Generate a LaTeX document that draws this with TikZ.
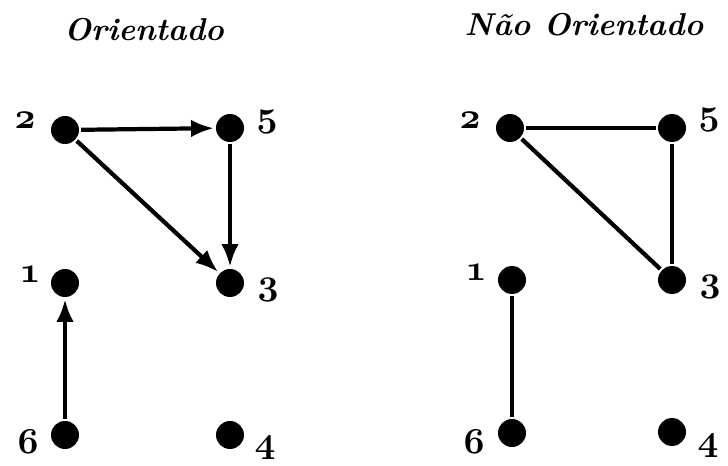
\documentclass[tikz,border=0pt]{standalone}
\usetikzlibrary{arrows.meta}
\newcommand{\osnum}[1]{{\usefont{OML}{cmm}{b}{it}#1}}
\begin{document}
\begin{tikzpicture}[x=0.02cm,y=-0.02cm,line width=2.4pt,
  vert/.style={circle,fill,inner sep=0pt,minimum size=0.56cm},
  num/.style={font=\fontsize{22}{22}\selectfont},
  ttl/.style={font=\fontsize{18}{20}\selectfont\bfseries\itshape}]
\useasboundingbox (0,0) rectangle (728,466);

% Orientado
\node[ttl] (tA) at (144,30) {Orientado};
\node[vert] (A2) at (65,130) {};
\node[vert] (A5) at (230,128) {};
\node[vert] (A1) at (65,283) {};
\node[vert] (A3) at (230,283) {};
\node[vert] (A6) at (65,435) {};
\node[vert] (A4) at (230,435) {};
\node[num] (a2) at (25,120) {\osnum{2}};
\node[num] (a5) at (267,122) {\osnum{5}};
\node[num] (a1) at (30,274) {\osnum{1}};
\node[num] (a3) at (268,290) {\osnum{3}};
\node[num] (a6) at (28,442) {\osnum{6}};
\node[num] (a4) at (265,448) {\osnum{4}};

\draw[->,>={Latex[length=13pt,width=10pt]}] (A2) -- (A5);
\draw[->,>={Latex[length=13pt,width=10pt]}] (A2) -- (A3);
\draw[->,>={Latex[length=13pt,width=10pt]}] (A5) -- (A3);
\draw[->,>={Latex[length=13pt,width=10pt]}] (A6) -- (A1);

% Nao Orientado
\node[ttl] (tB) at (584,25) {Não Orientado};
\node[vert] (B2) at (510,128) {};
\node[vert] (B5) at (672,128) {};
\node[vert] (B1) at (512,280) {};
\node[vert] (B3) at (672,280) {};
\node[vert] (B6) at (512,433) {};
\node[vert] (B4) at (672,432) {};
\node[num] (b2) at (470,120) {\osnum{2}};
\node[num] (b5) at (709,120) {\osnum{5}};
\node[num] (b1) at (476,272) {\osnum{1}};
\node[num] (b3) at (710,287) {\osnum{3}};
\node[num] (b6) at (474,442) {\osnum{6}};
\node[num] (b4) at (708,446) {\osnum{4}};

\draw (B2) -- (B5);
\draw (B2) -- (B3);
\draw (B5) -- (B3);
\draw (B6) -- (B1);

\end{tikzpicture}
\end{document}
